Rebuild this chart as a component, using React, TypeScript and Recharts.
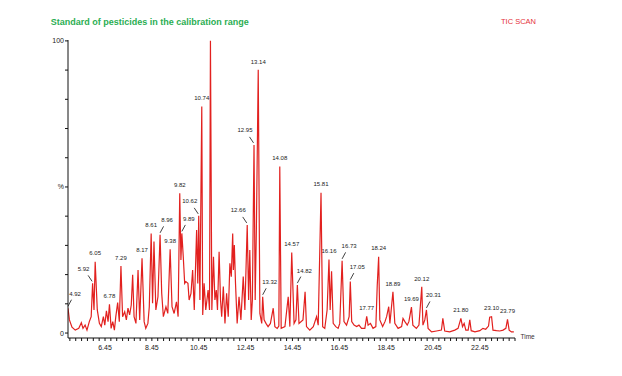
import { LineChart, Line, XAxis, YAxis, LabelList } from 'recharts'

// retention time (min) and relative abundance (%)
const times = [
  4.87, 4.93, 5.04, 5.18, 5.33, 5.44, 5.51, 5.60, 5.68, 5.78,
  5.86, 5.92, 5.98, 6.03, 6.12, 6.21, 6.29, 6.38, 6.44, 6.51,
  6.58, 6.64, 6.71, 6.78, 6.85, 6.91, 6.99, 7.06, 7.13, 7.20,
  7.29, 7.36, 7.43, 7.50, 7.57, 7.63, 7.69, 7.77, 7.86, 7.93,
  8.03, 8.12, 8.19, 8.28, 8.34, 8.42, 8.48, 8.54, 8.62, 8.71,
  8.80, 8.87, 8.94, 9.05, 9.13, 9.23, 9.31, 9.40, 9.50, 9.57,
  9.64, 9.69, 9.73, 9.79, 9.85, 9.90, 9.99, 10.04, 10.12, 10.19,
  10.26, 10.36, 10.41, 10.45, 10.50, 10.58, 10.62, 10.68, 10.75, 10.85,
  10.91, 10.95, 11.01, 11.08, 11.14, 11.20, 11.25, 11.32, 11.38, 11.43,
  11.50, 11.57, 11.64, 11.71, 11.78, 11.84, 11.90, 11.93, 11.97, 12.02,
  12.09, 12.17, 12.25, 12.35, 12.42, 12.52, 12.58, 12.63, 12.69, 12.74,
  12.81, 12.86, 12.91, 12.99, 13.06, 13.14, 13.18, 13.24, 13.32, 13.41,
  13.51, 13.63, 13.70, 13.80, 13.87, 13.91, 13.97, 14.13, 14.27, 14.34,
  14.42, 14.52, 14.60, 14.66, 14.73, 14.90, 14.99, 15.05, 15.19, 15.34,
  15.48, 15.55, 15.67, 15.74, 15.83, 15.93, 16.01, 16.06, 16.12, 16.19,
  16.30, 16.40, 16.47, 16.57, 16.65, 16.76, 16.87, 16.92, 16.98, 17.08,
  17.19, 17.29, 17.40, 17.54, 17.62, 17.68, 17.78, 17.89, 18.01, 18.07,
  18.13, 18.18, 18.30, 18.40, 18.47, 18.56, 18.61, 18.74, 18.82, 18.96,
  19.11, 19.17, 19.25, 19.35, 19.42, 19.53, 19.59, 19.74, 19.85, 19.97,
  20.02, 20.10, 20.17, 20.24, 20.39, 20.60, 20.81, 20.87, 20.95, 21.16,
  21.38, 21.52, 21.64, 21.71, 21.78, 21.85, 21.95, 22.02, 22.08, 22.24,
  22.45, 22.58, 22.70, 22.82, 22.87, 22.95, 23.01, 23.16, 23.30, 23.44,
  23.56, 23.63, 23.70, 23.80, 23.90,
]

const intensity = [
  8.5, 4.5, 2.0, 1.0, 1.6, 3.5, 1.6, 2.7, 1.0, 3.9,
  5.6, 17.0, 7.9, 24.4, 7.9, 3.3, 2.2, 5.6, 2.7, 7.6,
  3.9, 9.8, 1.6, 3.9, 1.0, 5.6, 10.4, 3.9, 22.9, 5.6,
  7.3, 4.5, 8.5, 6.2, 9.6, 19.9, 5.6, 3.3, 21.6, 4.5,
  25.6, 3.9, 1.6, 3.3, 9.0, 34.1, 10.2, 31.3, 7.9, 12.4,
  33.6, 13.6, 5.6, 9.0, 6.7, 28.7, 9.0, 6.7, 10.7, 5.6,
  47.8, 25.0, 34.1, 26.1, 17.0, 17.6, 17.0, 11.3, 13.6, 21.6,
  7.9, 35.3, 17.0, 40.1, 11.3, 77.5, 6.2, 17.0, 7.9, 14.7,
  7.9, 100, 7.9, 26.1, 11.3, 14.7, 7.9, 27.8, 11.3, 5.6,
  15.9, 3.3, 13.6, 5.6, 23.9, 19.3, 34.1, 21.6, 30.1, 17.0,
  3.3, 12.4, 4.5, 19.3, 7.9, 37.0, 11.3, 28.4, 4.5, 11.3,
  64.4, 11.3, 35.3, 90.1, 6.7, 3.3, 12.4, 4.5, 3.3, 2.2,
  3.3, 8.5, 2.2, 1.6, 2.4, 57.0, 1.6, 2.2, 12.4, 2.2,
  27.6, 3.3, 4.5, 16.4, 3.3, 4.5, 14.1, 2.2, 1.0, 2.2,
  5.6, 2.7, 48.0, 2.2, 1.6, 7.9, 25.2, 7.9, 21.1, 3.3,
  2.2, 1.6, 3.3, 24.7, 3.9, 2.7, 5.6, 17.6, 3.9, 2.7,
  2.2, 2.7, 1.6, 1.6, 5.7, 2.7, 3.3, 1.6, 2.2, 16.4,
  26.1, 4.5, 2.2, 3.9, 5.6, 9.0, 3.3, 14.1, 3.3, 1.6,
  2.2, 5.0, 3.9, 2.7, 3.9, 8.9, 2.7, 1.6, 2.7, 15.8,
  2.7, 4.5, 7.9, 1.6, 0.4, 0.7, 1.0, 5.0, 0.7, 0.4,
  1.0, 1.6, 5.0, 2.2, 3.3, 1.0, 1.0, 4.5, 0.8, 0.4,
  0.8, 1.6, 1.3, 2.4, 5.4, 5.6, 1.0, 0.8, 0.7, 1.0,
  1.6, 4.7, 1.0, 0.4, 0.4,
]

const peakLabels = [
  '4.92', '5.92', '6.05', '6.78', '7.29', '8.17', '8.61', '8.96', '9.38', '9.82', '9.89',
  '10.62', '10.74', '12.66', '12.95', '13.14', '13.32', '14.08', '14.57', '14.82', '15.81',
  '16.16', '16.73', '17.05', '17.77', '18.24', '18.89', '19.69', '20.12', '20.31', '21.80',
  '23.10', '23.79',
]
const peakTimes = [
  4.87, 5.92, 6.03, 6.64, 7.13, 8.03, 8.42, 8.80, 9.23, 9.64, 9.73,
  10.45, 10.58, 12.52, 12.81, 12.99, 13.18, 13.91, 14.42, 14.66, 15.67,
  16.01, 16.57, 16.92, 17.62, 18.13, 18.74, 19.53, 19.97, 20.17, 21.64,
  22.95, 23.63,
]

const xTickLabels = ['6.45', '8.45', '10.45', '12.45', '14.45', '16.45', '18.45', '20.45', '22.45']
const yTicks = [0, 10, 20, 30, 40, 50, 60, 70, 80, 90, 100]

const data = times.map((t, i) => {
  const k = peakTimes.indexOf(t)
  return { t, v: intensity[i], peak: k >= 0 ? peakLabels[k] : undefined }
})

// minor ticks every quarter minute, labelled ones every 2 min
const xTicks = Array.from({ length: 77 }, (_, i) => Math.round((4.95 + i * 0.25) * 100) / 100)

const leftLead = ['5.92', '10.62', '12.66', '12.95']
const rightLead = ['4.92', '8.96', '9.89', '13.32', '14.82', '16.73', '17.05', '20.31']

const FONT = '"Liberation Sans", Arial, sans-serif'
const RED = '#e2211f'

function PeakLabel(props: any) {
  const name = props.value
  if (!name) return <g />
  const x = props.x ?? props.viewBox?.x
  const y = props.y ?? props.viewBox?.y
  const txt = { fontSize: 6, fill: '#222', fontFamily: FONT, textAnchor: 'middle' as const }
  if (leftLead.includes(name)) {
    return (
      <g>
        <line x1={x - 4.5} y1={y - 8} x2={x - 0.5} y2={y - 2} stroke="#111" strokeWidth={0.8} />
        <text x={x - 9} y={y - 12.5} {...txt}>{name}</text>
      </g>
    )
  }
  if (rightLead.includes(name)) {
    return (
      <g>
        <line x1={x + 3.5} y1={y - 8.5} x2={x} y2={y - 2} stroke="#111" strokeWidth={0.8} />
        <text x={x + 7} y={y - 12.5} {...txt}>{name}</text>
      </g>
    )
  }
  return <text x={x} y={y - 6.3} {...txt}>{name}</text>
}

function TimeTick({ x, y, payload }: any) {
  const label = Number(payload.value).toFixed(2)
  if (!xTickLabels.includes(label)) return <g />
  return (
    <text x={x} y={y} dy={7} textAnchor="middle" fontSize={7} fill="#222" fontFamily={FONT}>
      {label}
    </text>
  )
}

export default function App() {
  return (
    <div style={{ position: 'relative', width: 614, height: 360, fontFamily: FONT }}>
      <LineChart
        width={614}
        height={360}
        data={data}
        margin={{ top: 32, right: 107, left: 20, bottom: 0 }}
      >
        <XAxis
          dataKey="t"
          type="number"
          domain={[4.87, 23.95]}
          allowDataOverflow
          ticks={xTicks}
          interval={0}
          tick={<TimeTick />}
          tickSize={3}
          tickMargin={2}
          height={30}
          axisLine={{ stroke: '#111' }}
          tickLine={{ stroke: '#111' }}
        />
        <YAxis
          type="number"
          domain={[-1.7, 100.3]}
          allowDataOverflow
          ticks={yTicks}
          interval={0}
          width={40}
          tickSize={3}
          tickMargin={1}
          tickFormatter={(v: number) => (v === 0 ? '0' : v === 50 ? '%' : v === 100 ? '100' : '')}
          tick={{ fontSize: 7, fill: '#222', fontFamily: FONT }}
          axisLine={{ stroke: '#111' }}
          tickLine={{ stroke: '#111' }}
        />
        <Line
          type="linear"
          dataKey="v"
          stroke={RED}
          strokeWidth={1.2}
          dot={false}
          activeDot={false}
          isAnimationActive={false}
        >
          <LabelList dataKey="peak" content={<PeakLabel />} />
        </Line>
      </LineChart>
      <svg width={614} height={360} style={{ position: 'absolute', left: 0, top: 0, pointerEvents: 'none' }}>
        <text x={42.7} y={17.3} fontSize={9} fontWeight="bold" fill="#2bae52" fontFamily={FONT}>
          Standard of pesticides in the calibration range
        </text>
        <text x={493} y={16} fontSize={7.5} fill="#e5313a" fontFamily={FONT}>
          TIC SCAN
        </text>
        <text x={512.5} y={330.5} fontSize={6.5} fill="#333" fontFamily={FONT}>
          Time
        </text>
      </svg>
    </div>
  )
}
